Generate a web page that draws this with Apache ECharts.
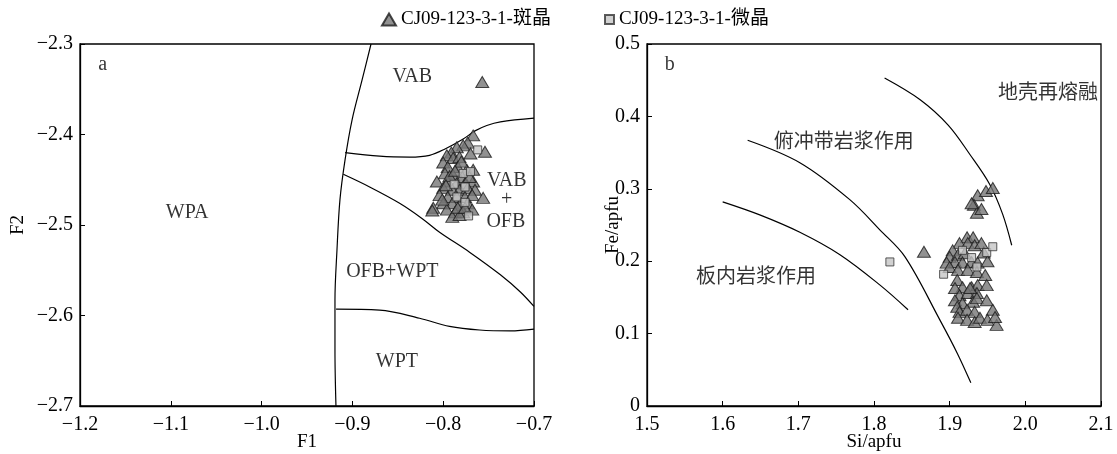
<!DOCTYPE html>
<html>
<head>
<meta charset="utf-8">
<script src="https://cdn.jsdelivr.net/npm/echarts@6/dist/echarts.min.js"></script>
<style>
  html, body { margin: 0; padding: 0; background: #fff; }
  #chart { width: 1117px; height: 454px; }
</style>
</head>
<body>
<div id="chart"></div>
<script>
// ---- Legend names ----
const nameTri = 'CJ09-123-3-1-斑晶';
const nameSq = 'CJ09-123-3-1-微晶';

// ---- Panel a: F1 vs F2 ----
const aXTicks = [-1.2, -1.1, -1.0, -0.9, -0.8, -0.7];
const aYTicks = [-2.7, -2.6, -2.5, -2.4, -2.3];

const aTriangles = [
  [-0.757, -2.342], [-0.767, -2.401], [-0.754, -2.419], [-0.773, -2.409], [-0.778, -2.412],
  [-0.785, -2.414], [-0.791, -2.420], [-0.796, -2.423], [-0.789, -2.426], [-0.782, -2.425],
  [-0.800, -2.431], [-0.795, -2.436], [-0.784, -2.436], [-0.774, -2.439], [-0.767, -2.439],
  [-0.798, -2.443], [-0.789, -2.445], [-0.779, -2.447], [-0.807, -2.452], [-0.795, -2.452],
  [-0.785, -2.454], [-0.776, -2.454], [-0.767, -2.452], [-0.800, -2.459], [-0.790, -2.461],
  [-0.782, -2.461], [-0.773, -2.459], [-0.765, -2.461], [-0.804, -2.467], [-0.795, -2.469],
  [-0.785, -2.469], [-0.776, -2.469], [-0.768, -2.467], [-0.756, -2.470], [-0.800, -2.476],
  [-0.790, -2.476], [-0.782, -2.478], [-0.773, -2.476], [-0.811, -2.481], [-0.796, -2.483],
  [-0.787, -2.486], [-0.778, -2.486], [-0.768, -2.483], [-0.790, -2.491], [-0.782, -2.489],
  [-0.784, -2.481], [-0.812, -2.484], [-0.793, -2.446], [-0.780, -2.430], [-0.771, -2.447],
  [-0.787, -2.440], [-0.801, -2.472], [-0.776, -2.481], [-0.770, -2.421], [-0.797, -2.456]
];
const aSquares = [
  [-0.762, -2.417], [-0.778, -2.443], [-0.770, -2.441], [-0.776, -2.458],
  [-0.785, -2.469], [-0.776, -2.475], [-0.772, -2.490], [-0.788, -2.455]
];

// field boundaries, panel a
const aCurveWPA = [
  [-0.8795, -2.300], [-0.8894, -2.340], [-0.9004, -2.384], [-0.9081, -2.428], [-0.9137, -2.472],
  [-0.9170, -2.528], [-0.9192, -2.583], [-0.9192, -2.638], [-0.9181, -2.700]
];
const aCurveVAB = [
  [-0.908, -2.420], [-0.870, -2.424], [-0.837, -2.425], [-0.815, -2.423], [-0.798, -2.416],
  [-0.778, -2.405], [-0.765, -2.396], [-0.752, -2.390], [-0.737, -2.386], [-0.700, -2.382]
];
const aCurveOFB = [
  [-0.910, -2.444], [-0.881, -2.458], [-0.848, -2.476], [-0.823, -2.493], [-0.804, -2.508],
  [-0.771, -2.530], [-0.737, -2.555], [-0.715, -2.574], [-0.700, -2.590]
];
const aCurveWPT = [
  [-0.918, -2.593], [-0.870, -2.594], [-0.826, -2.603], [-0.793, -2.612], [-0.760, -2.616],
  [-0.726, -2.617], [-0.700, -2.615]
];
const aLabels = [
  [-1.175, -2.323, 'a'], [-0.834, -2.336, 'VAB'], [-0.730, -2.451, 'VAB'],
  [-0.730, -2.472, '+'], [-0.731, -2.496, 'OFB'], [-1.082, -2.486, 'WPA'],
  [-0.856, -2.552, 'OFB+WPT'], [-0.851, -2.651, 'WPT']
];

// ---- Panel b: Si vs Fe (apfu) ----
const bXTicks = [1.5, 1.6, 1.7, 1.8, 1.9, 2.0, 2.1];
const bYTicks = [0, 0.1, 0.2, 0.3, 0.4, 0.5];

const bTriangles = [
  [1.937, 0.291], [1.948, 0.297], [1.957, 0.301], [1.932, 0.278], [1.936, 0.267], [1.929, 0.280], [1.942, 0.272],
  [1.866, 0.213],
  [1.923, 0.233], [1.931, 0.233], [1.913, 0.225], [1.904, 0.215], [1.924, 0.225], [1.933, 0.222],
  [1.900, 0.206], [1.911, 0.209], [1.920, 0.211], [1.896, 0.198], [1.907, 0.199], [1.917, 0.198],
  [1.929, 0.199], [1.937, 0.198], [1.900, 0.192], [1.911, 0.188], [1.924, 0.188], [1.936, 0.185],
  [1.945, 0.212], [1.950, 0.200], [1.942, 0.225],
  [1.910, 0.174], [1.917, 0.164], [1.929, 0.164], [1.937, 0.167], [1.907, 0.163], [1.913, 0.153],
  [1.924, 0.156], [1.936, 0.156], [1.907, 0.146], [1.917, 0.142], [1.931, 0.144], [1.910, 0.137],
  [1.913, 0.130], [1.923, 0.133], [1.933, 0.130], [1.911, 0.122], [1.923, 0.119], [1.933, 0.116],
  [1.940, 0.122], [1.947, 0.181], [1.949, 0.167], [1.936, 0.149], [1.949, 0.146], [1.957, 0.133],
  [1.950, 0.119], [1.962, 0.112], [1.960, 0.123], [1.927, 0.163]
];
const bSquares = [
  [1.821, 0.199], [1.892, 0.182], [1.917, 0.215], [1.929, 0.205],
  [1.936, 0.192], [1.949, 0.212], [1.957, 0.220]
];

// discrimination curves, panel b
const bCurveInner = [
  [1.600, 0.282], [1.649, 0.264], [1.702, 0.240], [1.755, 0.209], [1.808, 0.167], [1.845, 0.133]
];
const bCurveMiddle = [
  [1.633, 0.367], [1.702, 0.336], [1.768, 0.285], [1.808, 0.243], [1.841, 0.206],
  [1.887, 0.119], [1.910, 0.073], [1.928, 0.032]
];
const bCurveOuter = [
  [1.814, 0.453], [1.861, 0.423], [1.898, 0.388], [1.927, 0.347], [1.953, 0.306],
  [1.970, 0.265], [1.982, 0.222]
];
const bLabels = [
  [1.530, 0.471, 'b'], [2.030, 0.431, '地壳再熔融'],
  [1.760, 0.363, '俯冲带岩浆作用'], [1.644, 0.177, '板内岩浆作用']
];

// ---- shared styling ----
const FONT = "'Liberation Serif', 'Noto Sans CJK SC', serif";
const triStyle = { color: '#767676', borderColor: '#1a1a1a', borderWidth: 1 };
const sqStyle = { color: '#c6c6c6', borderColor: '#333333', borderWidth: 1 };
const fmt = v => {
  if (Math.abs(v) < 1e-9) return '0';
  return (v < 0 ? '\u2212' : '') + Math.abs(v).toFixed(1);
};

function makeAxis(gridIndex, ticks, name, nameGap, isY) {
  return {
    type: 'value', gridIndex,
    min: ticks[0], max: ticks[ticks.length - 1],
    interval: +(ticks[1] - ticks[0]).toFixed(2),
    name, nameLocation: 'middle', nameGap, nameMoveOverlap: false,
    nameTextStyle: { fontFamily: FONT, fontSize: 19, color: '#000' },
    axisLine: { show: true, onZero: false, lineStyle: { color: '#000', width: 1.3 } },
    axisTick: { show: true, inside: true, length: 5, lineStyle: { color: '#000', width: 1 } },
    axisLabel: { fontFamily: FONT, fontSize: 20, color: '#000', margin: isY ? 7 : 9, formatter: fmt },
    splitLine: { show: false }
  };
}

function curve(data, xi, yi) {
  return {
    type: 'line', data, xAxisIndex: xi, yAxisIndex: yi,
    smooth: 0.35, symbol: 'none', silent: true, clip: true,
    lineStyle: { color: '#000', width: 1.2 }, z: 1
  };
}

function textLayer(data, xi, yi) {
  return {
    type: 'scatter', data, xAxisIndex: xi, yAxisIndex: yi,
    symbolSize: 0, silent: true, z: 5,
    label: {
      show: true, position: 'inside', formatter: p => p.data[2],
      fontFamily: FONT, fontSize: 20, color: '#000'
    }
  };
}

const gridBase = {
  top: 44, width: 454, height: 362, show: true, borderColor: '#000', borderWidth: 1.3,
  backgroundColor: 'transparent', containLabel: false, outerBoundsMode: 'none'
};

const option = {
  animation: false,
  backgroundColor: '#fff',
  legend: [
    {
      data: [nameTri], left: 376, top: 5, itemWidth: 14, itemHeight: 12, itemGap: 0,
      textStyle: { fontFamily: FONT, fontSize: 19, color: '#000' }
    },
    {
      data: [nameSq], left: 599, top: 5, itemWidth: 9, itemHeight: 9, itemGap: 0,
      textStyle: { fontFamily: FONT, fontSize: 19, color: '#000' }
    }
  ],
  grid: [
    Object.assign({ left: 80 }, gridBase),
    Object.assign({ left: 647 }, gridBase)
  ],
  xAxis: [
    makeAxis(0, aXTicks, 'F1', 27, false),
    makeAxis(1, bXTicks, 'Si/apfu', 27, false)
  ],
  yAxis: [
    makeAxis(0, aYTicks, 'F2', 52, true),
    makeAxis(1, bYTicks, 'Fe/apfu', 24, true)
  ],
  series: [
    curve(aCurveWPA, 0, 0), curve(aCurveVAB, 0, 0), curve(aCurveOFB, 0, 0), curve(aCurveWPT, 0, 0),
    curve(bCurveInner, 1, 1), curve(bCurveMiddle, 1, 1), curve(bCurveOuter, 1, 1),
    textLayer(aLabels, 0, 0), textLayer(bLabels, 1, 1),
    { name: nameTri, type: 'scatter', xAxisIndex: 0, yAxisIndex: 0, data: aTriangles, symbol: 'triangle', symbolSize: [13, 11], itemStyle: triStyle, z: 3 },
    { name: nameTri, type: 'scatter', xAxisIndex: 1, yAxisIndex: 1, data: bTriangles, symbol: 'triangle', symbolSize: [13, 11], itemStyle: triStyle, z: 3 },
    { name: nameSq, type: 'scatter', xAxisIndex: 0, yAxisIndex: 0, data: aSquares, symbol: 'rect', symbolSize: 8, itemStyle: sqStyle, z: 4 },
    { name: nameSq, type: 'scatter', xAxisIndex: 1, yAxisIndex: 1, data: bSquares, symbol: 'rect', symbolSize: 8, itemStyle: sqStyle, z: 4 }
  ]
};

const chart = echarts.init(document.getElementById('chart'), null, { renderer: 'canvas' });
chart.setOption(option);
</script>
</body>
</html>
